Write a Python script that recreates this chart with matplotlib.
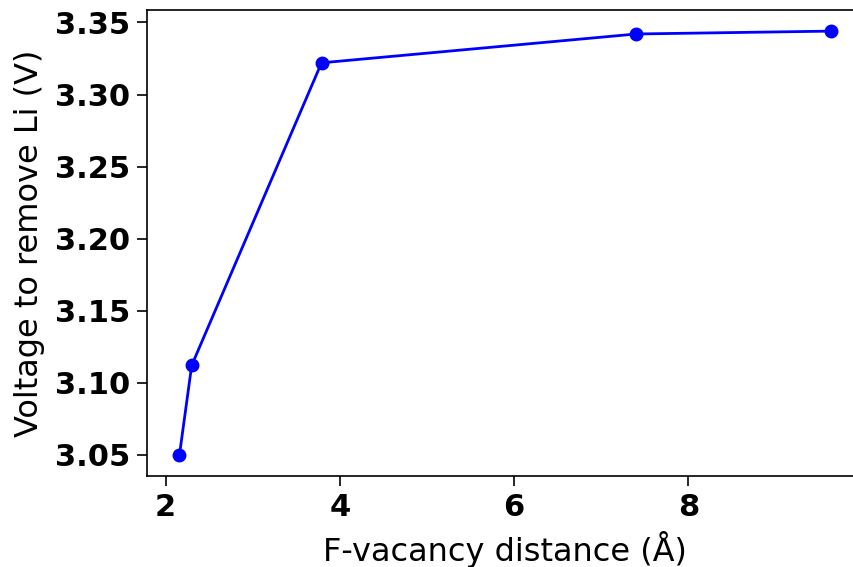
import matplotlib
matplotlib.use("Agg")
import matplotlib.pyplot as plt

distance = [2.16, 2.30, 3.79, 7.40, 9.64]
voltage = [3.050, 3.112, 3.322, 3.342, 3.344]
xticks = [2, 4, 6, 8]
yticks = [3.05, 3.10, 3.15, 3.20, 3.25, 3.30, 3.35]

fig = plt.figure(figsize=(8.54, 5.67), dpi=100)
ax = fig.add_axes([0.172, 0.1605, 0.8396, 0.822])
ax.plot(distance, voltage, "o-", color="blue", lw=2, ms=9)
ax.set_xticks(xticks)
ax.set_yticks(yticks)
ax.set_yticklabels([f"{v:.2f}" for v in yticks])
ax.tick_params(labelsize=22, width=1.2, length=7, pad=5)
for lab in ax.get_xticklabels() + ax.get_yticklabels():
    lab.set_fontweight("bold")
ax.set_xlabel("F-vacancy distance (Å)", fontsize=23, labelpad=7)
ax.set_ylabel("Voltage to remove Li (V)", fontsize=23, labelpad=7)
for s in ax.spines.values():
    s.set_linewidth(1.2)
fig.savefig("out.png", dpi=100)
